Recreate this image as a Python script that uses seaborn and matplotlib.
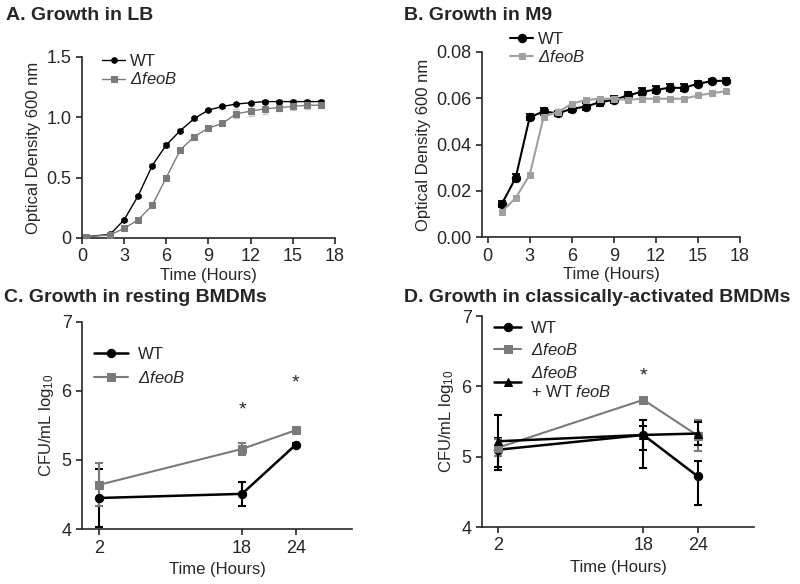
import numpy as np
import pandas as pd
import matplotlib
matplotlib.use("Agg")
import matplotlib.pyplot as plt
import seaborn as sns

# --- Panel A: growth in LB ---
lb_time = [0.25, 2, 3, 4, 5, 6, 7, 8, 9, 10, 11, 12, 13, 14, 15, 16, 17]
lb_wt = [0.01, 0.03, 0.15, 0.35, 0.60, 0.77, 0.89, 0.99, 1.06, 1.09, 1.11, 1.12, 1.13, 1.13, 1.13, 1.13, 1.13]
lb_wt_err = [0.01, 0.01, 0.01, 0.01, 0.01, 0.02, 0.01, 0.01, 0.01, 0.01, 0.01, 0.01, 0.01, 0.01, 0.01, 0.01, 0.01]
lb_feob = [0.01, 0.025, 0.08, 0.15, 0.27, 0.50, 0.73, 0.84, 0.91, 0.95, 1.03, 1.05, 1.07, 1.08, 1.09, 1.10, 1.10]
lb_feob_err = [0.01, 0.01, 0.01, 0.01, 0.01, 0.01, 0.01, 0.01, 0.01, 0.01, 0.04, 0.04, 0.04, 0.03, 0.03, 0.03, 0.02]

# --- Panel B: growth in M9 ---
m9_time = list(range(1, 18))
m9_wt = [0.0142, 0.0256, 0.0518, 0.0543, 0.0535, 0.0554, 0.0564, 0.0583, 0.0593, 0.0612,
         0.0628, 0.0637, 0.0645, 0.0645, 0.0663, 0.0674, 0.0676]
m9_wt_err = [0.0012, 0.0015, 0.0012, 0.0015, 0.0012, 0.0012, 0.0014, 0.0015, 0.0015, 0.0015,
             0.0015, 0.0015, 0.0015, 0.0015, 0.0012, 0.0010, 0.0010]
m9_feob = [0.0109, 0.0169, 0.0269, 0.0521, 0.054, 0.0576, 0.0593, 0.0598, 0.0598, 0.0593,
           0.0598, 0.0598, 0.0598, 0.0598, 0.0612, 0.0622, 0.063]
m9_feob_err = [0.0008, 0.0006, 0.0006, 0.0008, 0.0008, 0.0008, 0.0008, 0.0008, 0.0008, 0.0008,
               0.0008, 0.0008, 0.0008, 0.0008, 0.0008, 0.0008, 0.0008]

# --- Panel C: resting BMDMs ---
mac_time = [2, 18, 24]
rest_wt = [4.45, 4.51, 5.22]
rest_wt_err = [0.42, 0.17, 0.03]
rest_feob = [4.64, 5.16, 5.43]
rest_feob_err = [0.31, 0.09, 0.02]
rest_star_x = [18, 24]
rest_star_y = [5.72, 6.12]

# --- Panel D: classically-activated BMDMs (lower / upper error) ---
act_wt = [5.10, 5.31, 4.72]
act_wt_lo = [0.29, 0.47, 0.41]
act_wt_hi = [0.16, 0.13, 0.22]
act_feob = [5.13, 5.81, 5.30]
act_feob_err = [0.12, 0.02, 0.22]
act_comp = [5.22, 5.31, 5.33]
act_comp_err = [0.37, 0.21, 0.16]
act_star_x = [18]
act_star_y = [6.15]

sns.set_style("ticks")
plt.rcParams['font.family'] = ['Liberation Sans', 'DejaVu Sans']
plt.rcParams['mathtext.fontset'] = 'custom'
plt.rcParams['mathtext.rm'] = 'Liberation Sans:italic'
plt.rcParams['mathtext.it'] = 'Liberation Sans:italic'
plt.rcParams['mathtext.sf'] = 'Liberation Sans'
plt.rcParams['axes.linewidth'] = 1.2
plt.rcParams['xtick.major.width'] = 1.2
plt.rcParams['ytick.major.width'] = 1.2

FEOB = r'$\mathrm{ΔfeoB}$'
COMP = FEOB + '\n+ WT ' + r'$\mathrm{feoB}$'
YLAB = r'CFU/mL log$_{\mathsf{10}}$'
BLACK = '#000000'
GRAY = '#7a7a7a'
LGRAY = '#a0a0a0'

fig = plt.figure(figsize=(8, 5.84), dpi=100)
axA = fig.add_axes([0.1025, 0.5925, 0.316, 0.31])
axB = fig.add_axes([0.6025, 0.594, 0.3225, 0.317])
axC = fig.add_axes([0.1025, 0.094, 0.3375, 0.355])
axD = fig.add_axes([0.6025, 0.0976, 0.34, 0.361])


def draw(ax, x, y, err, color, marker, label, ms, lw, ecolor=None, capsize=2, elw=1):
    ax.errorbar(x, y, yerr=err, fmt='none', ecolor=ecolor or color, capsize=capsize,
                elinewidth=elw, capthick=elw, zorder=2)
    sns.lineplot(x=x, y=y, ax=ax, color=color, marker=marker, markersize=ms,
                 markeredgecolor=color, linewidth=lw, label=label, zorder=3)


# A
draw(axA, lb_time, lb_wt, lb_wt_err, BLACK, 'o', 'WT', 4, 1.0)
draw(axA, lb_time, lb_feob, lb_feob_err, GRAY, 's', FEOB, 4, 1.0, ecolor='#c8c8c8')
axA.set_xlim(0, 18)
axA.set_ylim(0, 1.5)
axA.set_xticks(range(0, 19, 3))
axA.set_yticks([0, 0.5, 1.0, 1.5])
axA.set_yticklabels(['0', '0.5', '1.0', '1.5'])
axA.set_xlabel('Time (Hours)', fontsize=12, labelpad=2)
axA.set_ylabel('Optical Density 600 nm', fontsize=12)
axA.legend(loc='upper left', bbox_to_anchor=(0.02, 1.1), frameon=False, fontsize=12,
           handlelength=1.4, handletextpad=0.3, labelspacing=0.15)

# B
draw(axB, m9_time, m9_wt, m9_wt_err, BLACK, 'o', 'WT', 6, 1.5, capsize=3, elw=1.3)
draw(axB, m9_time, m9_feob, m9_feob_err, LGRAY, 's', FEOB, 5, 1.5, capsize=2)
axB.set_xlim(-0.4, 18)
axB.set_ylim(0, 0.08)
axB.set_xticks(range(0, 19, 3))
axB.set_yticks([0, 0.02, 0.04, 0.06, 0.08])
axB.set_yticklabels(['0.00', '0.02', '0.04', '0.06', '0.08'])
axB.set_xlabel('Time (Hours)', fontsize=12, labelpad=2)
axB.set_ylabel('Optical Density 600 nm', fontsize=12)
axB.legend(loc='upper left', bbox_to_anchor=(0.05, 1.19), frameon=False, fontsize=12,
           handlelength=1.4, handletextpad=0.3, labelspacing=0.15)

# C
draw(axC, mac_time, rest_wt, rest_wt_err, BLACK, 'o', 'WT', 6, 1.8, capsize=3, elw=1.5)
draw(axC, mac_time, rest_feob, rest_feob_err, GRAY, 's', FEOB, 6, 1.5, capsize=3, elw=1.5)
for sx, sy in zip(rest_star_x, rest_star_y):
    axC.text(sx, sy, '*', ha='center', va='center', fontsize=14)
axC.set_xlim(0.1, 30.3)
axC.set_ylim(4, 7)
axC.set_xticks(mac_time)
axC.set_yticks([4, 5, 6, 7])
axC.set_xlabel('Time (Hours)', fontsize=12)
axC.set_ylabel(YLAB, fontsize=12)
axC.legend(loc='upper left', bbox_to_anchor=(-0.01, 0.95), frameon=False, fontsize=12,
           handlelength=2.0, handletextpad=0.6, labelspacing=0.45)

# D
draw(axD, mac_time, act_wt, [act_wt_lo, act_wt_hi], BLACK, 'o', 'WT', 6, 1.8, capsize=3, elw=1.5)
draw(axD, mac_time, act_feob, act_feob_err, GRAY, 's', FEOB, 6, 1.5, capsize=3, elw=1.5)
draw(axD, mac_time, act_comp, act_comp_err, BLACK, '^', COMP, 6, 1.8, capsize=3, elw=1.5)
for sx, sy in zip(act_star_x, act_star_y):
    axD.text(sx, sy, '*', ha='center', va='center', fontsize=14)
axD.set_xlim(0.2, 30.2)
axD.set_ylim(4, 7)
axD.set_xticks(mac_time)
axD.set_yticks([4, 5, 6, 7])
axD.set_xlabel('Time (Hours)', fontsize=12)
axD.set_ylabel(YLAB, fontsize=12)
axD.legend(loc='upper left', bbox_to_anchor=(-0.01, 1.05), frameon=False, fontsize=12,
           handlelength=1.6, handletextpad=0.6, labelspacing=0.4)

for ax in (axA, axB, axC, axD):
    sns.despine(ax=ax)
    ax.tick_params(labelsize=13, length=4, direction='out')

fig.text(0.008, 0.965, 'A. Growth in LB', fontsize=14, fontweight='bold')
fig.text(0.505, 0.965, 'B. Growth in M9', fontsize=14, fontweight='bold')
fig.text(0.005, 0.483, 'C. Growth in resting BMDMs', fontsize=14, fontweight='bold')
fig.text(0.505, 0.483, 'D. Growth in classically-activated BMDMs', fontsize=14, fontweight='bold')

fig.savefig('out.png', dpi=100)
